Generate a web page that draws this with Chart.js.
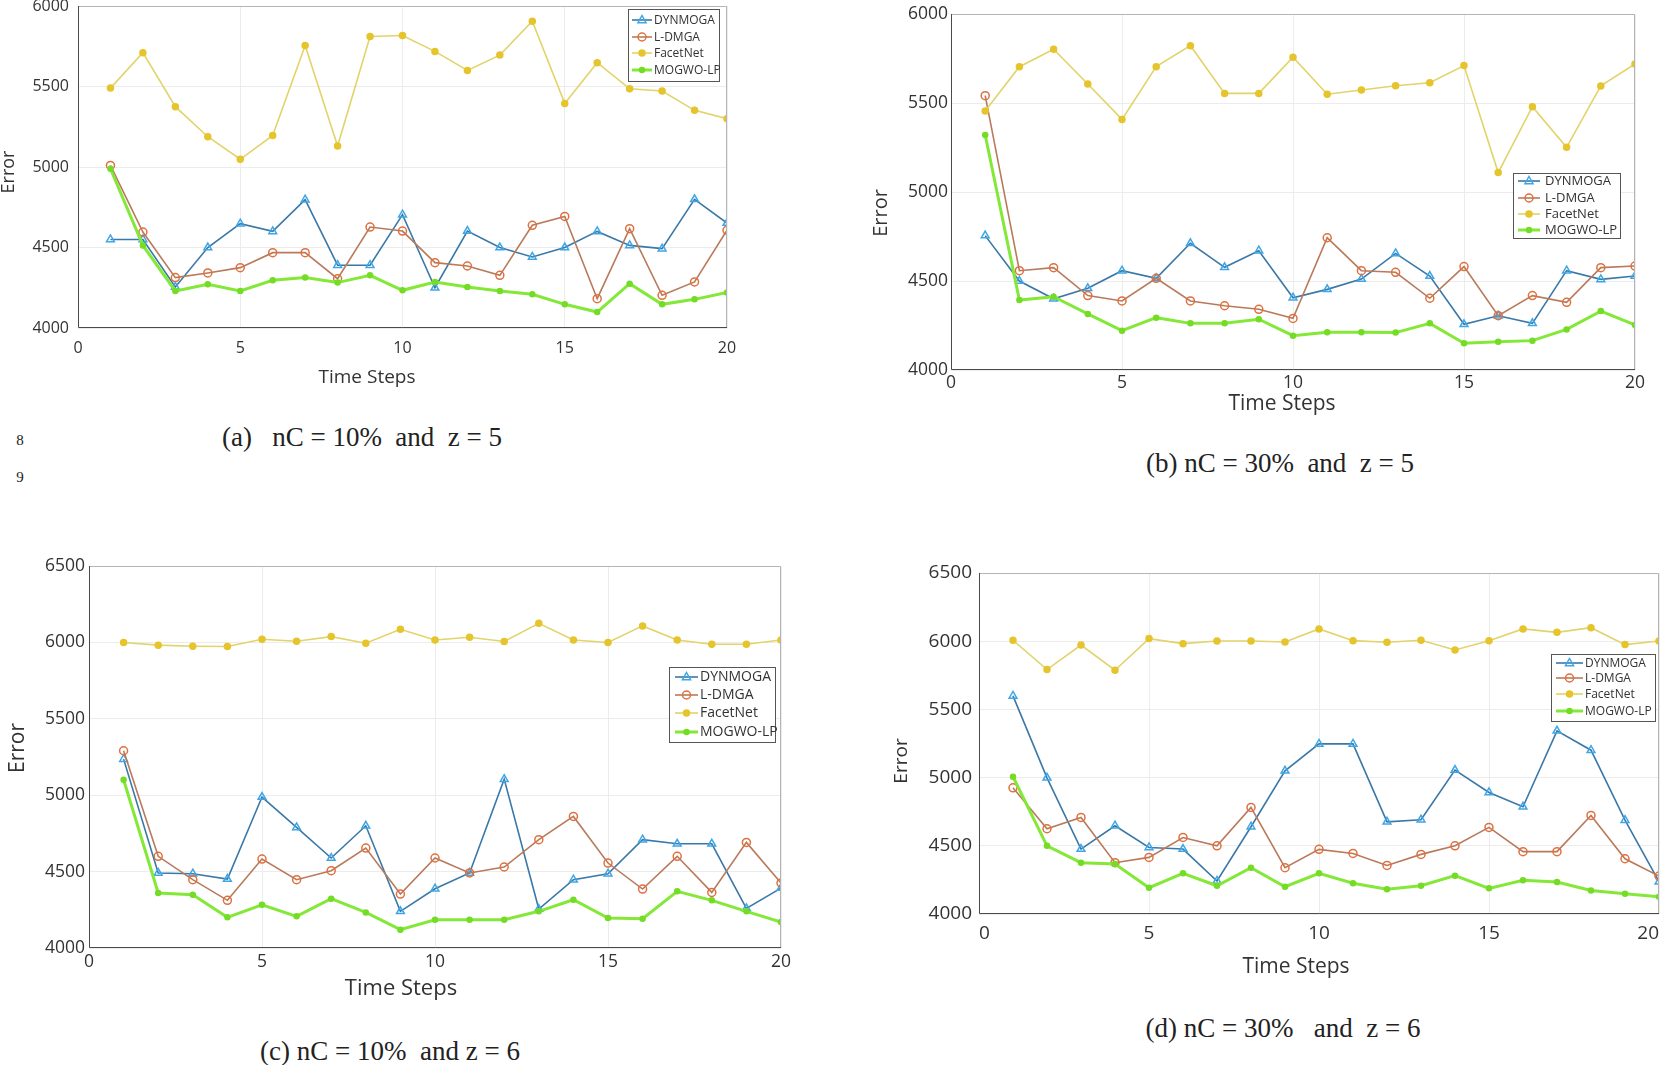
<!DOCTYPE html>
<html>
<head>
<meta charset="utf-8">
<script src="https://cdn.jsdelivr.net/npm/chart.js@4.4.1/dist/chart.umd.min.js"></script>
<style>
html, body { margin: 0; padding: 0; background: #fff; }
body { width: 1667px; height: 1065px; position: relative; overflow: hidden; }
canvas { position: absolute; }
.cap { position: absolute; font-family: "Liberation Serif", "Times New Roman", serif; color: #222;
       white-space: pre; transform: translate(-50%, -50%); }
</style>
</head>
<body>
<canvas id="chartA"></canvas>
<canvas id="chartB"></canvas>
<canvas id="chartC"></canvas>
<canvas id="chartD"></canvas>

<div class="cap" style="left:20px;top:440px;font-size:15px;">8</div>
<div class="cap" style="left:20px;top:477px;font-size:15px;">9</div>
<div class="cap" style="left:362px;top:437px;font-size:27px;">(a)   nC = 10%  and  z = 5</div>
<div class="cap" style="left:1280px;top:463px;font-size:27px;">(b) nC = 30%  and  z = 5</div>
<div class="cap" style="left:390px;top:1051px;font-size:27px;">(c) nC = 10%  and z = 6</div>
<div class="cap" style="left:1283px;top:1028px;font-size:27px;">(d) nC = 30%   and  z = 6</div>

<script>
// waarden
const timeSteps = [1, 2, 3, 4, 5, 6, 7, 8, 9, 10, 11, 12, 13, 14, 15, 16, 17, 18, 19, 20];
const seriesNames = ["DYNMOGA", "L-DMGA", "FacetNet", "MOGWO-LP"];
const xTicks = [0, 5, 10, 15, 20];

// (a) nC = 10%, z = 5
const dynmogaA = [4550, 4550, 4255, 4500, 4648, 4600, 4797, 4390, 4390, 4704, 4250, 4602, 4500, 4441, 4500, 4600, 4513, 4493, 4799, 4652];
const ldmgaA = [5010, 4596, 4313, 4342, 4375, 4468, 4468, 4306, 4627, 4602, 4406, 4385, 4327, 4638, 4693, 4182, 4617, 4203, 4286, 4607];
const facetnetA = [5490, 5710, 5375, 5188, 5048, 5196, 5755, 5130, 5811, 5817, 5718, 5600, 5695, 5906, 5395, 5648, 5486, 5472, 5352, 5300];
const mogwoA = [4989, 4513, 4230, 4271, 4230, 4296, 4313, 4282, 4327, 4234, 4286, 4255, 4230, 4209, 4147, 4099, 4275, 4147, 4178, 4221];

// (b) nC = 30%, z = 5
const dynmogaB = [4755, 4500, 4400, 4459, 4558, 4515, 4712, 4577, 4670, 4406, 4453, 4511, 4655, 4528, 4257, 4305, 4262, 4558, 4509, 4528];
const ldmgaB = [5541, 4558, 4575, 4418, 4388, 4515, 4388, 4361, 4341, 4290, 4743, 4558, 4549, 4403, 4581, 4305, 4418, 4380, 4575, 4584];
const facetnetB = [5455, 5704, 5802, 5607, 5408, 5704, 5822, 5554, 5554, 5757, 5549, 5573, 5597, 5614, 5710, 5109, 5479, 5251, 5596, 5719];
const mogwoB = [5320, 4393, 4412, 4315, 4221, 4294, 4262, 4262, 4285, 4193, 4212, 4212, 4210, 4262, 4150, 4159, 4165, 4228, 4331, 4253];

// (c) nC = 10%, z = 6
const dynmogaC = [5236, 4491, 4486, 4451, 4988, 4789, 4589, 4800, 4240, 4388, 4491, 5105, 4255, 4447, 4486, 4709, 4682, 4682, 4259, 4392];
const ldmgaC = [5291, 4600, 4447, 4312, 4582, 4447, 4506, 4654, 4353, 4589, 4491, 4530, 4709, 4861, 4556, 4386, 4600, 4364, 4691, 4425];
const facetnetC = [5999, 5982, 5975, 5973, 6021, 6008, 6038, 5995, 6086, 6016, 6034, 6006, 6125, 6016, 5999, 6108, 6016, 5988, 5988, 6016];
const mogwoC = [5101, 4360, 4349, 4201, 4283, 4207, 4323, 4233, 4120, 4185, 4185, 4185, 4240, 4316, 4196, 4192, 4371, 4312, 4240, 4170];

// (d) nC = 30%, z = 6
const dynmogaD = [5599, 4998, 4476, 4647, 4488, 4476, 4242, 4640, 5050, 5247, 5247, 4676, 4691, 5055, 4891, 4786, 5343, 5201, 4688, 4237];
const ldmgaD = [4925, 4625, 4708, 4376, 4415, 4561, 4500, 4781, 4339, 4474, 4444, 4356, 4437, 4500, 4635, 4457, 4457, 4723, 4405, 4278];
const facetnetD = [6007, 5792, 5972, 5787, 6019, 5982, 6002, 6002, 5994, 6090, 6004, 5992, 6007, 5936, 6004, 6090, 6065, 6099, 5975, 6002];
const mogwoD = [5006, 4500, 4376, 4366, 4193, 4298, 4207, 4339, 4200, 4298, 4225, 4181, 4207, 4281, 4188, 4247, 4234, 4173, 4149, 4127];

// stijl per methode
const seriesStyles = [
    { borderColor: "#3a78a8", markColor: "#3ea6e6", pointStyle: "triangle", pointRadius: 4.5, fill: false, borderWidth: 1.6, order: 4 },
    { borderColor: "#b97a5c", markColor: "#e0703e", pointStyle: "circle", pointRadius: 4, fill: false, borderWidth: 1.6, order: 3 },
    { borderColor: "#e2d36a", markColor: "#e6c42c", pointStyle: "circle", pointRadius: 3, fill: true, borderWidth: 1.6, order: 2 },
    { borderColor: "#84e838", markColor: "#74dc26", pointStyle: "circle", pointRadius: 2.5, fill: true, borderWidth: 3, order: 1 }
];

// plaats van elk paneel op de pagina
const panels = [
    { id: "chartA", left: 0, top: 0, width: 745, height: 400, axisL: 78, axisB: 72, padTop: 6, padRight: 18,
      yMin: 4000, yMax: 6000, values: [dynmogaA, ldmgaA, facetnetA, mogwoA],
      tickSize: 16, xTickPad: 11, yTickPad: 9, xAlign: "center",
      xTitle: { x: 367, y: 378, size: 19 }, yTitle: { x: 9, y: 172, size: 18 },
      legend: { x: 628, y: 9, w: 91, h: 72, rows: [20, 37, 53, 70], line: [632, 652], textX: 654, size: 12 } },
    { id: "chartB", left: 860, top: 0, width: 800, height: 420, axisL: 91, axisB: 50, padTop: 14, padRight: 25,
      yMin: 4000, yMax: 6000, values: [dynmogaB, ldmgaB, facetnetB, mogwoB],
      tickSize: 17.5, xTickPad: 3, yTickPad: 3, xAlign: "center",
      xTitle: { x: 1282, y: 404, size: 21 }, yTitle: { x: 881, y: 213, size: 20 },
      legend: { x: 1513, y: 173, w: 107, h: 65, rows: [181, 198, 214, 230], line: [1518, 1540], textX: 1545, size: 13 } },
    { id: "chartC", left: 0, top: 540, width: 800, height: 470, axisL: 89, axisB: 62, padTop: 26, padRight: 19,
      yMin: 4000, yMax: 6500, values: [dynmogaC, ldmgaC, facetnetC, mogwoC],
      tickSize: 17.5, xTickPad: 4, yTickPad: 4, xAlign: "center",
      xTitle: { x: 401, y: 989, size: 22 }, yTitle: { x: 18, y: 748, size: 21 },
      legend: { x: 669, y: 667, w: 106, h: 75, rows: [677, 695, 713, 732], line: [675, 698], textX: 700, size: 14 } },
    { id: "chartD", left: 860, top: 540, width: 807, height: 450, axisL: 119, axisB: 76, padTop: 33, padRight: 8,
      yMin: 4000, yMax: 6500, values: [dynmogaD, ldmgaD, facetnetD, mogwoD],
      tickSize: 19, xTickPad: 8, yTickPad: 7, xAlign: "inner",
      xTitle: { x: 1296, y: 967, size: 21 }, yTitle: { x: 902, y: 761, size: 19 },
      legend: { x: 1551, y: 654, w: 104, h: 67, rows: [663, 678, 694, 711], line: [1556, 1583], textX: 1585, size: 12 } }
];

// markering tekenen (ook voor de legenda)
function drawMarker(ctx, style, x, y) {
    const r = style.pointRadius;
    ctx.save();
    ctx.lineWidth = 1.5;
    ctx.strokeStyle = style.markColor;
    ctx.fillStyle = style.markColor;
    ctx.beginPath();
    if (style.pointStyle === "triangle") {
        ctx.moveTo(x, y - r);
        ctx.lineTo(x + r * 0.9, y + r * 0.6);
        ctx.lineTo(x - r * 0.9, y + r * 0.6);
        ctx.closePath();
    } else {
        ctx.arc(x, y, r, 0, Math.PI * 2);
    }
    if (style.fill) ctx.fill();
    ctx.stroke();
    ctx.restore();
}

// kader, legenda en astitels
const panelDecor = {
    id: "panelDecor",
    afterDatasetsDraw(chart, args, opts) {
        const p = opts.panel;
        const ctx = chart.ctx;
        const a = chart.chartArea;
        ctx.save();
        ctx.lineWidth = 1;
        ctx.strokeStyle = "#b4b4b4";
        ctx.beginPath();
        ctx.moveTo(a.left, a.top + 0.5);
        ctx.lineTo(a.right - 0.5, a.top + 0.5);
        ctx.lineTo(a.right - 0.5, a.bottom);
        ctx.stroke();
        ctx.strokeStyle = "#4a4a4a";
        ctx.beginPath();
        ctx.moveTo(a.left + 0.5, a.top);
        ctx.lineTo(a.left + 0.5, a.bottom - 0.5);
        ctx.lineTo(a.right, a.bottom - 0.5);
        ctx.stroke();

        // legenda
        const lg = p.legend;
        const ox = p.left, oy = p.top;
        ctx.fillStyle = "#fff";
        ctx.fillRect(lg.x - ox, lg.y - oy, lg.w, lg.h);
        ctx.strokeStyle = "#555";
        ctx.strokeRect(lg.x - ox + 0.5, lg.y - oy + 0.5, lg.w, lg.h);
        ctx.font = lg.size + 'px "Open Sans"';
        ctx.textBaseline = "middle";
        seriesNames.forEach((name, i) => {
            const st = seriesStyles[i];
            const y = lg.rows[i] - oy;
            ctx.strokeStyle = st.borderColor;
            ctx.lineWidth = st.borderWidth;
            ctx.beginPath();
            ctx.moveTo(lg.line[0] - ox, y);
            ctx.lineTo(lg.line[1] - ox, y);
            ctx.stroke();
            drawMarker(ctx, st, (lg.line[0] + lg.line[1]) / 2 - ox, y);
            ctx.fillStyle = "#333";
            ctx.fillText(name, lg.textX - ox, y + 0.5);
        });
        ctx.restore();
    },
    afterDraw(chart, args, opts) {
        const p = opts.panel;
        const ctx = chart.ctx;
        ctx.save();
        ctx.fillStyle = "#333";
        ctx.textAlign = "center";
        ctx.textBaseline = "middle";
        ctx.font = p.xTitle.size + 'px "Open Sans"';
        ctx.fillText("Time Steps", p.xTitle.x - p.left, p.xTitle.y - p.top);
        ctx.translate(p.yTitle.x - p.left, p.yTitle.y - p.top);
        ctx.rotate(-Math.PI / 2);
        ctx.font = p.yTitle.size + 'px "Open Sans"';
        ctx.fillText("Error", 0, 0);
        ctx.restore();
    }
};

function makePanel(p) {
    const canvas = document.getElementById(p.id);
    canvas.width = p.width;
    canvas.height = p.height;
    canvas.style.left = p.left + "px";
    canvas.style.top = p.top + "px";
    canvas.style.width = p.width + "px";
    canvas.style.height = p.height + "px";

    const datasets = p.values.map((vals, i) => {
        const st = seriesStyles[i];
        return {
            label: seriesNames[i],
            data: timeSteps.map((t, j) => ({ x: t, y: vals[j] })),
            borderColor: st.borderColor,
            borderWidth: st.borderWidth,
            pointStyle: st.pointStyle,
            pointRadius: st.pointRadius,
            pointBorderColor: st.markColor,
            pointBorderWidth: 1.5,
            pointBackgroundColor: st.fill ? st.markColor : "rgba(0,0,0,0)",
            tension: 0,
            order: st.order
        };
    });

    const tickFont = { family: '"Open Sans"', size: p.tickSize };

    return new Chart(canvas, {
        type: "line",
        data: { datasets: datasets },
        options: {
            responsive: false,
            animation: false,
            devicePixelRatio: 1,
            layout: { padding: { top: p.padTop, right: p.padRight, left: 0, bottom: 0 } },
            scales: {
                x: {
                    type: "linear", min: 0, max: 20,
                    afterBuildTicks(s) { s.ticks = xTicks.map(v => ({ value: v })); },
                    ticks: { font: tickFont, color: "#333", padding: p.xTickPad, maxRotation: 0,
                             align: p.xAlign, callback: v => String(v) },
                    grid: { color: "#ececec", drawTicks: false },
                    border: { display: false },
                    afterFit(s) { s.height = p.axisB; s.paddingLeft = 0; s.paddingRight = 0; }
                },
                y: {
                    min: p.yMin, max: p.yMax,
                    ticks: { stepSize: 500, font: tickFont, color: "#333", padding: p.yTickPad,
                             callback: v => String(v) },
                    grid: { color: "#ececec", drawTicks: false },
                    border: { display: false },
                    afterFit(s) { s.width = p.axisL; s.paddingTop = 0; s.paddingBottom = 0; }
                }
            },
            plugins: {
                legend: { display: false },
                tooltip: { enabled: false },
                panelDecor: { panel: p }
            }
        },
        plugins: [panelDecor]
    });
}

panels.forEach(makePanel);
</script>
</body>
</html>
